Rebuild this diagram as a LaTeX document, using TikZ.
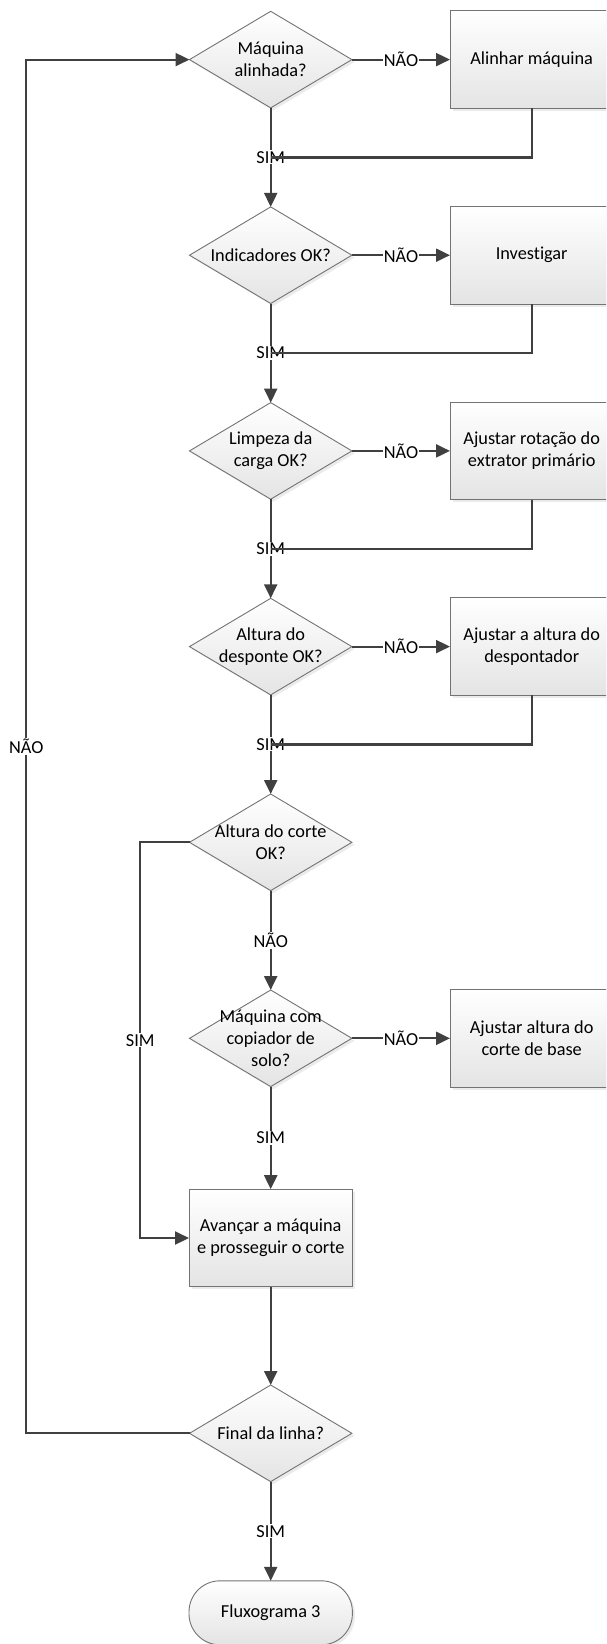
\documentclass[tikz,border=0pt]{standalone}
\usepackage{fontspec}
\setmainfont{Carlito}[Ligatures={NoCommon}]
\usetikzlibrary{shapes.geometric,arrows.meta,shadows,calc}

\definecolor{linegray}{HTML}{404040}
\definecolor{edgegray}{HTML}{737373}
\definecolor{fillbottom}{HTML}{E4E4E4}

\tikzset{
  basefont/.style={font=\fontsize{18.3}{21.7}\selectfont},
  shapebase/.style={draw=edgegray, line width=0.9pt, top color=white,
    bottom color=fillbottom,
    drop shadow={opacity=0.16, shadow xshift=2.5pt, shadow yshift=-2.5pt}},
  decision/.style={shapebase, diamond, minimum width=162.4pt,
    minimum height=96.6pt, inner sep=0pt, outer sep=0pt},
  process/.style={shapebase, rectangle, minimum width=163.4pt,
    minimum height=97.6pt, inner sep=2pt, outer sep=0pt, align=center, basefont},
  terminal/.style={shapebase, rectangle, rounded corners=31pt,
    minimum width=163.4pt, minimum height=64pt, outer sep=0pt, basefont},
  txt/.style={basefont, align=center, inner sep=0pt},
  conn/.style={draw=linegray, line width=2.2pt},
  arr/.style={conn, -{Triangle[length=14pt,width=13pt]}},
  lbl/.style={basefont, fill=white, inner sep=1pt},
}

\begin{document}
\begin{tikzpicture}[x=1pt,y=-1pt]
  \useasboundingbox (0,0) rectangle (606,1644);
  \clip (0,0) rectangle (606,1644);

  % main column of decisions
  \node[decision] (d1) at (270.7,59.6) {};
  \node[txt] (d1t) at (d1.center) {Máquina\\alinhada?};
  \node[decision] (d2) at (270.7,255.2) {};
  \node[txt] (d2t) at (d2.center) {Indicadores OK?};
  \node[decision] (d3) at (270.7,450.9) {};
  \node[txt] (d3t) at (d3.center) {Limpeza da\\carga OK?};
  \node[decision] (d4) at (270.7,646.6) {};
  \node[txt] (d4t) at (d4.center) {Altura do\\desponte OK?};
  \node[decision] (d5) at (270.7,842.3) {};
  \node[txt] (d5t) at (d5.center) {Altura do corte\\OK?};
  \node[decision] (d6) at (270.7,1038.3) {};
  \node[txt] (d6t) at (d6.center) {Máquina com\\copiador de\\solo?};
  \node[process] (b7) at (270.7,1238) {Avançar a máquina\\e prosseguir o corte};
  \node[decision] (d8) at (270.7,1433.3) {};
  \node[txt] (d8t) at (d8.center) {Final da linha?};
  \node[terminal] (t9) at (270.7,1612.8) {Fluxograma 3};

  % corrective actions on the right
  \node[process] (b1) at (531.7,59.6) {Alinhar máquina};
  \node[process] (b2) at (531.7,255.2) {Investigar};
  \node[process] (b3) at (531.7,450.9) {Ajustar rotação do\\extrator primário};
  \node[process] (b4) at (531.7,646.6) {Ajustar a altura do\\despontador};
  \node[process] (b6) at (531.7,1038.3) {Ajustar altura do\\corte de base};

  % corners of the side loops
  \coordinate (loopx) at (26.2,0);
  \coordinate (simx) at (140.3,0);

  % NÃO branches to the right
  \draw[arr] (d1.east) -- node[lbl] {NÃO} (b1.west);
  \draw[arr] (d2.east) -- node[lbl] {NÃO} (b2.west);
  \draw[arr] (d3.east) -- node[lbl] {NÃO} (b3.west);
  \draw[arr] (d4.east) -- node[lbl] {NÃO} (b4.west);
  \draw[arr] (d6.east) -- node[lbl] {NÃO} (b6.west);

  % main flow downwards
  \draw[arr] (d1.south) -- node[lbl] (s1) {SIM} coordinate[midway] (j1) (d2.north);
  \draw[arr] (d2.south) -- node[lbl] (s2) {SIM} coordinate[midway] (j2) (d3.north);
  \draw[arr] (d3.south) -- node[lbl] (s3) {SIM} coordinate[midway] (j3) (d4.north);
  \draw[arr] (d4.south) -- node[lbl] (s4) {SIM} coordinate[midway] (j4) (d5.north);
  \draw[arr] (d5.south) -- node[lbl] (n5) {NÃO} (d6.north);
  \draw[arr] (d6.south) -- node[lbl] (s6) {SIM} (b7.north);
  \draw[arr] (b7.south) -- (d8.north);
  \draw[arr] (d8.south) -- node[lbl] (s8) {SIM} (t9.north);

  % returns from the corrective actions
  \draw[conn] (b1.south) |- (j1);
  \draw[conn] (b2.south) |- (j2);
  \draw[conn] (b3.south) |- (j3);
  \draw[conn] (b4.south) |- (j4);

  % bypass when the cut height is right
  \draw[arr] (d5.west) -| node[lbl, pos=0.75] (s5) {SIM} (simx |- b7.west) -- (b7.west);

  % loop back to the start of the row
  \draw[arr] (d8.west) -| node[lbl, pos=0.75] (n8) {NÃO} (loopx |- d1.west) -- (d1.west);
\end{tikzpicture}
\end{document}
